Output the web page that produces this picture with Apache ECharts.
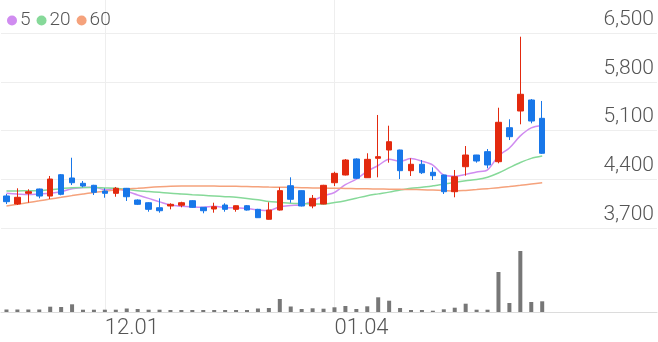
<!DOCTYPE html>
<html><head><meta charset="utf-8">
<script src="https://cdn.jsdelivr.net/npm/echarts@6/dist/echarts.min.js"></script>
<style>html,body{margin:0;padding:0;background:#fff}#c{width:658px;height:342px}</style>
</head><body><div id="c"></div>
<script>
const dates = ['11.20','11.21','11.22','11.23','11.24','11.27','11.28','11.29','11.30','12.01',
  '12.04','12.05','12.06','12.07','12.08','12.11','12.12','12.13','12.14','12.15',
  '12.18','12.19','12.20','12.21','12.22','12.26','12.27','12.28','01.02','01.03',
  '01.04','01.05','01.08','01.09','01.10','01.11','01.12','01.15','01.16','01.17',
  '01.18','01.19','01.22','01.23','01.24','01.25','01.26','01.29','01.30','01.31',
  '02.01','02.02','02.05','02.06','02.07','02.08','02.13','02.14','02.15','02.16'];
const labelDates = ['12.01','01.04'];
const opens  = [4160,4045,4198,4260,4159,4465,4418,4342,4313,4231,4198,4270,4102,4063,3991,4016,4026,4092,3997,3973,4030,3968,4020,3968,3825,3958,4307,4236,4016,4044,4350,4461,4691,4422,4701,4820,4820,4523,4615,4500,4461,4221,4580,4748,4796,4652,5140,5380,5538,5275];
const closes = [4078,4141,4221,4159,4403,4184,4350,4303,4212,4198,4270,4149,4040,3968,3948,4040,4063,3997,3948,4006,3968,4020,3958,3848,3958,4236,4112,4016,4126,4313,4485,4676,4414,4686,4724,4939,4523,4615,4494,4451,4221,4437,4748,4662,4605,5218,5011,5620,5236,4773];
const lows   = [4044,4030,4063,4126,4116,4170,4317,4284,4174,4135,4149,4088,4030,3934,3920,3968,3997,3990,3911,3920,3934,3934,3950,3845,3820,3950,4063,4010,3983,4040,4303,4455,4405,4418,4428,4638,4403,4447,4475,4389,4188,4141,4451,4638,4557,4629,4963,5189,5203,4763];
const highs  = [4188,4270,4256,4265,4447,4475,4709,4375,4320,4270,4289,4275,4110,4070,4126,4055,4077,4100,4000,4063,4055,4025,4030,3975,4069,4284,4428,4240,4174,4320,4508,4690,4700,4773,5323,5169,4825,4701,4676,4571,4465,4533,4877,4750,4834,5427,5261,6447,5552,5524];
const ma5  = [4198,4188,4180,4190,4200,4222,4263,4280,4290,4249,4267,4226,4174,4125,4075,4029,4012,4003,3999,4011,3996,3988,3980,3960,3950,4004,4022,4034,4090,4161,4210,4323,4403,4515,4597,4688,4657,4697,4659,4604,4461,4444,4470,4504,4535,4734,4849,5023,5138,5172];
const ma20 = [4231,4233,4235,4236,4250,4265,4279,4281,4280,4275,4270,4255,4236,4225,4212,4198,4188,4178,4169,4160,4150,4141,4125,4105,4080,4068,4055,4050,4046,4044,4065,4092,4128,4164,4190,4215,4245,4270,4285,4305,4327,4355,4378,4395,4430,4490,4566,4640,4700,4734];
const ma60 = [4016,4040,4065,4090,4116,4140,4165,4188,4210,4228,4245,4260,4270,4282,4292,4300,4303,4303,4303,4302,4300,4298,4295,4292,4288,4285,4282,4279,4276,4273,4270,4268,4265,4263,4260,4258,4256,4253,4249,4245,4238,4231,4240,4252,4265,4278,4295,4313,4332,4350];
const volumes = [25,25,25,25,53,50,77,23,23,23,23,35,30,23,23,20,20,20,20,20,20,20,20,35,40,130,55,30,37,33,47,60,30,57,147,113,40,20,20,13,27,43,83,23,23,400,90,610,100,107];
const priceTicks = [3700,4400,5100,5800,6500];
const volumeMax = 3120;

const UP = '#e3290e', DOWN = '#1877e9';
const candleData = opens.map((o,i)=>[o, closes[i], lows[i], highs[i]]);
const FONT = 'Roboto';

const chart = echarts.init(document.getElementById('c'), null, {renderer:'canvas'});
chart.setOption({
  animation: false,
  textStyle: {fontFamily: FONT},
  legend: {
    left: 2, top: 6, itemWidth: 10, itemHeight: 10, itemGap: 6, icon: 'circle',
    data: ['5','20','60'],
    textStyle: {fontSize: 19, color: '#555', fontFamily: FONT, fontWeight: 300, padding: [0,0,0,-2]}
  },
  grid: [
    {left: 1, right: 1, top: 33, bottom: 114},
    {left: 1, right: 1, top: 0, bottom: 30}
  ],
  xAxis: [
    {type:'category', gridIndex:0, data: dates, boundaryGap: true,
     axisLine:{show:false}, axisTick:{show:false}, axisLabel:{show:false}, splitLine:{show:false}},
    {type:'category', gridIndex:1, data: dates, boundaryGap: true,
     axisLine:{show:true, lineStyle:{color:'#dcdcdc', width:1}}, axisTick:{show:false},
     axisLabel:{show:true, interval: (i, v) => labelDates.includes(v), align:'left',
       fontSize: 22, color:'#555', fontWeight: 300, fontFamily: FONT, margin: 5},
     splitLine:{show:false}}
  ],
  yAxis: [
    {type:'value', gridIndex:0, position:'right', min: priceTicks[0], max: priceTicks[priceTicks.length-1],
     interval: priceTicks[1]-priceTicks[0],
     axisLine:{show:false}, axisTick:{show:false},
     axisLabel:{inside:true, margin: 3, verticalAlign:'bottom', padding:[0,0,3,0],
       fontSize: 21, color:'#555', fontWeight: 300, fontFamily: FONT,
       formatter: v => v.toLocaleString('en-US')},
     splitLine:{show:true, lineStyle:{color:'#eeeeee', width:1}}},
    {type:'value', gridIndex:1, min: 0, max: volumeMax,
     axisLine:{show:false}, axisTick:{show:false}, axisLabel:{show:false}, splitLine:{show:false}}
  ],
  series: [
    {type:'candlestick', name:'price', xAxisIndex:0, yAxisIndex:0, data: candleData, barWidth: 6,
     itemStyle:{color: UP, color0: DOWN, borderColor: UP, borderColor0: DOWN, borderWidth: 1}},
    {type:'line', name:'5', xAxisIndex:0, yAxisIndex:0, data: ma5, symbol:'none', smooth: 0.3,
     lineStyle:{color:'#d08cf0', width:1.5}, itemStyle:{color:'#d08cf0'}, z: 1},
    {type:'line', name:'20', xAxisIndex:0, yAxisIndex:0, data: ma20, symbol:'none', smooth: 0.3,
     lineStyle:{color:'#86d999', width:1.5}, itemStyle:{color:'#86d999'}, z: 1},
    {type:'line', name:'60', xAxisIndex:0, yAxisIndex:0, data: ma60, symbol:'none', smooth: 0.3,
     lineStyle:{color:'#f5a27c', width:1.5}, itemStyle:{color:'#f5a27c'}, z: 1},
    {type:'bar', name:'volume', xAxisIndex:1, yAxisIndex:1, data: volumes, barWidth: 4,
     itemStyle:{color:'#777777'},
     markLine:{silent:true, symbol:'none', label:{show:false}, z: 0,
       lineStyle:{color:'#eeeeee', width:1, type:'solid'},
       data: labelDates.map(d => ({xAxis: d}))}}
  ]
});
</script>
</body></html>
